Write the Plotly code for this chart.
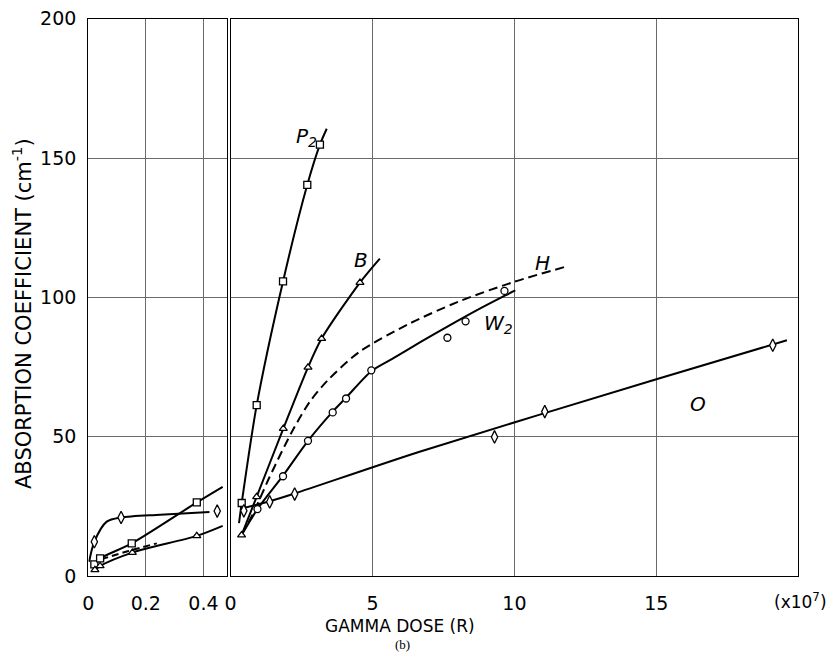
import plotly.graph_objects as go

# ---------------- data ----------------
# Low-dose panel (dose in units of 1e7 R)
low_sq_x = [0.021, 0.041, 0.151, 0.377]
low_sq_y = [4.2, 6.3, 11.7, 26.4]
low_sq_curve_x = [0.021, 0.041, 0.151, 0.377, 0.467]
low_sq_curve_y = [4.2, 6.3, 11.7, 26.4, 32.0]

low_tri_x = [0.023, 0.041, 0.153, 0.377]
low_tri_y = [2.2, 3.6, 8.4, 14.4]
low_tri_curve_x = [0.023, 0.041, 0.153, 0.377, 0.467]
low_tri_curve_y = [2.2, 3.6, 8.4, 14.4, 18.0]

low_dia_x = [0.021, 0.114, 0.448]
low_dia_y = [12.3, 21.0, 23.3]
low_dia_curve_x = [0.003, 0.021, 0.064, 0.114, 0.25, 0.421]
low_dia_curve_y = [5.1, 12.3, 19.5, 21.0, 22.0, 23.0]

low_dash_x = [0.045, 0.14, 0.238]
low_dash_y = [6.0, 9.0, 11.7]

# High-dose panel
p2_x = [0.395, 0.923, 1.85, 2.705, 3.15]
p2_y = [26.2, 61.3, 105.7, 140.4, 154.8]
p2_curve_x = [0.30, 0.395, 0.923, 1.85, 2.705, 3.15, 3.39]
p2_curve_y = [19.0, 26.2, 61.3, 105.7, 140.4, 154.8, 160.5]

b_x = [0.39, 0.92, 1.86, 2.73, 3.21, 4.56]
b_y = [14.7, 28.4, 52.9, 74.9, 85.2, 105.3]
b_curve_x = [0.39, 0.92, 1.86, 2.73, 3.21, 4.56, 5.26]
b_curve_y = [14.7, 28.4, 52.9, 74.9, 85.2, 105.3, 113.9]

h_curve_x = [0.39, 0.80, 1.38, 2.15, 2.79, 3.43, 4.55, 6.29, 8.04, 9.97, 11.84]
h_curve_y = [14.7, 22.5, 35.6, 51.5, 62.5, 70.3, 80.5, 90.5, 98.5, 105.5, 111.1]

w2_x = [0.95, 1.85, 2.73, 3.60, 4.07, 4.96, 7.64, 8.28, 9.65]
w2_y = [24.0, 35.8, 48.5, 58.7, 63.7, 73.8, 85.5, 91.4, 102.3]
w2_curve_x = [0.39, 0.95, 1.85, 2.73, 3.60, 4.07, 4.96, 5.71, 6.70, 7.64, 8.70, 9.68, 10.03]
w2_curve_y = [14.7, 24.0, 36.0, 48.5, 59.0, 64.0, 73.5, 78.0, 84.0, 89.5, 95.5, 100.7, 102.5]

o_x = [0.47, 1.38, 2.26, 9.30, 11.07, 19.10]
o_y = [23.4, 26.6, 29.4, 49.9, 59.0, 82.8]
o_curve_x = [0.50, 1.38, 2.26, 6.66, 15.0, 19.6]
o_curve_y = [24.5, 26.8, 29.6, 44.6, 70.6, 84.6]

curve_labels = ["P<sub>2</sub>", "B", "H", "W<sub>2</sub>", "O"]
curve_label_x = [2.66, 4.60, 11.0, 9.43, 16.46]
curve_label_y = [157.7, 113.5, 112.5, 90.6, 61.6]

low_ticks = [0, 0.2, 0.4]
low_tick_text = ["0", "0.2", "0.4"]
high_ticks = [0, 5, 10, 15]
y_ticks = [0, 50, 100, 150, 200]

# ---------------- styling ----------------
FONT = "DejaVu Sans"
INK = "black"
GRID = "#6a6a6a"
LW = 2

fig = go.Figure()


def line(x, y, xa, ya, dash="solid"):
    fig.add_trace(go.Scatter(
        x=x, y=y, xaxis=xa, yaxis=ya, mode="lines",
        line=dict(color=INK, width=LW, dash=dash, shape="spline", smoothing=0.8),
        showlegend=False, hoverinfo="skip"))


def marks(x, y, xa, ya, symbol, size=7):
    fig.add_trace(go.Scatter(
        x=x, y=y, xaxis=xa, yaxis=ya, mode="markers",
        marker=dict(symbol=symbol, size=size, color="white",
                    line=dict(color=INK, width=1.3)),
        showlegend=False))


# low-dose panel
line(low_sq_curve_x, low_sq_curve_y, "x", "y")
line(low_tri_curve_x, low_tri_curve_y, "x", "y")
line(low_dia_curve_x, low_dia_curve_y, "x", "y")
line(low_dash_x, low_dash_y, "x", "y", dash="7px,4px")
marks(low_sq_x, low_sq_y, "x", "y", "square")
marks(low_tri_x, low_tri_y, "x", "y", "triangle-up")
marks(low_dia_x, low_dia_y, "x", "y", "diamond-tall", 9)

# high-dose panel
line(p2_curve_x, p2_curve_y, "x2", "y2")
line(b_curve_x, b_curve_y, "x2", "y2")
line(h_curve_x, h_curve_y, "x2", "y2", dash="9px,5px")
line(w2_curve_x, w2_curve_y, "x2", "y2")
line(o_curve_x, o_curve_y, "x2", "y2")
marks(p2_x, p2_y, "x2", "y2", "square")
marks(b_x, b_y, "x2", "y2", "triangle-up")
marks(w2_x, w2_y, "x2", "y2", "circle")
marks(o_x, o_y, "x2", "y2", "diamond-tall", 9)

W, H = 829, 656
ydom = [1 - 576 / H, 1 - 18.7 / H]

axis_common = dict(
    showline=True, linecolor=INK, linewidth=1.3, mirror=True, automargin=False,
    showgrid=True, gridcolor=GRID, gridwidth=1, zeroline=False,
    ticks="", tickfont=dict(family=FONT, size=19, color=INK),
)

fig.update_layout(
    width=W, height=H,
    margin=dict(l=0, r=0, t=0, b=0, autoexpand=False),
    paper_bgcolor="white", plot_bgcolor="white",
    xaxis=dict(axis_common, domain=[88.3 / W, 227 / W], range=[0, 0.482],
               tickvals=low_ticks, ticktext=low_tick_text, anchor="y",
               ticklabelstandoff=10),
    xaxis2=dict(axis_common, domain=[230.5 / W, 798.3 / W], range=[0, 20],
                tickvals=high_ticks, anchor="y2", ticklabelstandoff=10),
    yaxis=dict(axis_common, domain=ydom, range=[0, 200], tickvals=y_ticks,
               anchor="x", ticklabelstandoff=7),
    yaxis2=dict(axis_common, domain=ydom, range=[0, 200], tickvals=y_ticks,
                anchor="x2", showticklabels=False, matches="y"),
)

for text, x, y in zip(curve_labels, curve_label_x, curve_label_y):
    fig.add_annotation(x=x, y=y, xref="x2", yref="y2", text=f"<i>{text}</i>",
                       showarrow=False, font=dict(family=FONT, size=20, color=INK))

fig.add_annotation(x=400 / W, y=1 - 626 / H, xref="paper", yref="paper",
                   xanchor="center", yanchor="middle",
                   text="GAMMA DOSE (R)", showarrow=False,
                   font=dict(family=FONT, size=17, color=INK))
fig.add_annotation(x=402 / W, y=1 - 644 / H, xref="paper", yref="paper",
                   xanchor="center", yanchor="middle",
                   text="(b)", showarrow=False,
                   font=dict(family="Liberation Serif", size=13, color=INK))
fig.add_annotation(x=800 / W, y=1 - 601 / H, xref="paper", yref="paper",
                   xanchor="center", yanchor="middle",
                   text="(x10<sup>7</sup>)", showarrow=False,
                   font=dict(family=FONT, size=17, color=INK))
fig.add_annotation(x=22 / W, y=1 - 314 / H, xref="paper", yref="paper",
                   xanchor="center", yanchor="middle",
                   text="ABSORPTION COEFFICIENT (cm<sup>-1</sup>)", textangle=-90,
                   showarrow=False, font=dict(family=FONT, size=21, color=INK))

fig.write_html("out.html")
